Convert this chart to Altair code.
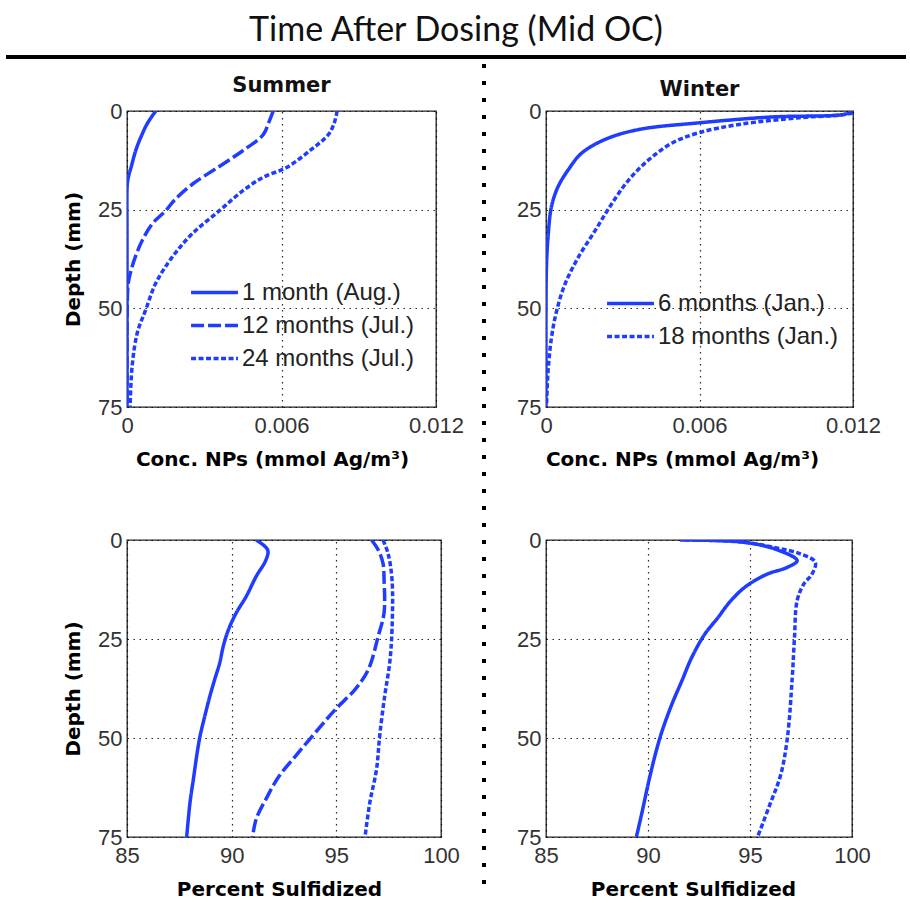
import altair as alt
import pandas as pd

# ---------------- data ----------------
TITLE = "Time After Dosing (Mid OC)"

summer_names = ["1 month (Aug.)", "12 months (Jul.)", "24 months (Jul.)"]
winter_names = ["6 months (Jan.)", "18 months (Jan.)"]

# Summer, concentration of NPs (mmol Ag/m3) vs depth (mm)
s1_conc_depth = [0, 2, 4, 6, 8, 10, 12, 14, 16, 18, 20, 30, 45, 60, 75]
s1_conc = [0.00112, 0.0009, 0.00072, 0.00058, 0.00045, 0.00034, 0.00025, 0.00017,
           0.00008, 0.00002, 0.0, 0.0, 0.0, 0.0, 0.0]
s12_conc_depth = [0, 3, 6, 10, 14, 18.5, 22.6, 25.2, 28.5, 32.7, 36, 39.4, 43.6, 50, 60, 75]
s12_conc = [0.00568, 0.0055, 0.00529, 0.00451, 0.0036, 0.00255, 0.00184, 0.00151,
            0.00099, 0.0006, 0.00038, 0.0002, 0.00005, 0.00001, 0.0, 0.0]
s24_conc_depth = [0, 3, 5.9, 10, 14.3, 16.8, 20.2, 25.2, 31, 36.9, 43.6, 50.3, 56.2, 64.6, 75]
s24_conc = [0.00816, 0.00805, 0.00783, 0.00711, 0.0062, 0.00529, 0.0045, 0.0036,
            0.00255, 0.00177, 0.00112, 0.00073, 0.0004, 0.0002, 0.00012]

# Winter, concentration
w6_conc_depth = [0.3, 1.0, 1.5, 3.0, 4.7, 7.2, 10.7, 14.9, 19.2, 24.3, 32, 39, 50, 75]
w6_conc = [0.012, 0.0115, 0.00886, 0.00598, 0.00362, 0.00231, 0.00139, 0.00087,
           0.00047, 0.00021, 0.00008, 0.00002, 0.0, 0.0]
w18_conc_depth = [0.5, 1.0, 1.7, 3.4, 5.5, 8.1, 12.4, 17.5, 23.5, 30.3, 37.1, 43.9,
                  50.8, 57.6, 66, 75]
w18_conc = [0.012, 0.0115, 0.00991, 0.00755, 0.00598, 0.00493, 0.00401, 0.00323,
            0.00257, 0.00192, 0.00126, 0.00074, 0.00041, 0.00021, 0.00008, 0.00002]

# Summer, percent sulfidized
s1_pct_depth = [0, 2.5, 5, 9.2, 14.3, 18.4, 22.6, 26.8, 31, 35.2, 39.4, 44.4, 49.5,
                54.5, 60.4, 66.3, 75]
s1_pct = [91.17, 91.72, 91.64, 91.17, 90.69, 90.22, 89.85, 89.6, 89.43, 89.19, 88.96,
          88.72, 88.49, 88.33, 88.17, 88.01, 87.85]
s12_pct_depth = [0, 2.5, 5.9, 10, 18.4, 24.3, 32.7, 37.7, 42.8, 48.6, 54.5, 59.6, 65.4, 70.5, 75]
s12_pct = [96.68, 97.0, 97.23, 97.28, 97.28, 97.0, 96.53, 95.9, 94.95, 94.0, 93.06,
           92.27, 91.64, 91.17, 91.0]
s24_pct_depth = [0, 3.4, 10, 22.6, 31, 39.4, 49.5, 57.9, 66.3, 75]
s24_pct = [97.23, 97.47, 97.66, 97.66, 97.55, 97.31, 97.07, 96.92, 96.6, 96.37]

# Winter, percent sulfidized
w6_pct_depth = [0, 0.5, 2.2, 5.2, 6.9, 8.6, 11, 13, 16.2, 19.6, 23.8, 29.7, 35.7, 41.6,
                48.4, 54.3, 61.1, 68.7, 75]
w6_pct = [91.57, 94.56, 96.18, 97.31, 96.83, 95.85, 95.0, 94.5, 93.92, 93.43, 92.78,
          92.14, 91.65, 91.16, 90.68, 90.35, 90.03, 89.71, 89.43]
w18_pct_depth = [0, 0.5, 2.0, 3.5, 5.6, 8.6, 11.1, 15.3, 24.7, 34.8, 50.1, 59.4, 66.2, 75]
w18_pct = [91.8, 94.6, 96.3, 97.47, 98.2, 98.04, 97.64, 97.31, 97.18, 97.07, 96.83,
           96.5, 96.02, 95.37]

depth_ticks = [0, 25, 50, 75]
conc_ticks = [0, 0.006, 0.012]
pct_ticks = [85, 90, 95, 100]

# ---------------- styling ----------------
BLUE = "#1f3cff"
TICK_FONT = "Liberation Sans"
TITLE_FONT = "DejaVu Sans"
summer_dashes = [[1, 0], [13, 4], [5, 2.5]]
winter_dashes = [[1, 0], [5, 2.5]]


def long_frame(names, depths, values):
    rows = []
    for n, d, v in zip(names, depths, values):
        for dd, vv in zip(d, v):
            rows.append({"series": n, "depth": dd, "value": vv})
    return pd.DataFrame(rows)


def panel(df, names, dashes, xdom, xvals, conc, xtitle, title_x, ytitle, w, h,
          subtitle=None, sub_offset=4, legend_xy=None):
    xaxis = dict(values=xvals, title=xtitle, titleX=title_x)
    if conc:
        xaxis["labelExpr"] = "datum.value == 0 ? '0' : format(datum.value, '.3f')"
    yaxis = dict(values=depth_ticks, title=ytitle)
    if legend_xy is not None:
        leg = alt.Legend(orient="none", legendX=legend_xy[0], legendY=legend_xy[1],
                         direction="vertical", title=None, symbolType="stroke",
                         symbolSize=2200, symbolStrokeWidth=3.5,
                         symbolStrokeColor=BLUE, clipHeight=23, rowPadding=8,
                         labelFont=TICK_FONT, labelFontSize=24, labelColor="#222",
                         labelOffset=2, padding=0, labelLimit=400)
    else:
        leg = None
    ch = alt.Chart(df).mark_line(color=BLUE, strokeWidth=3.5, clip=True,
                                 interpolate="catmull-rom").encode(
        x=alt.X("value:Q", scale=alt.Scale(domain=xdom, nice=False, zero=False),
                axis=alt.Axis(**xaxis)),
        y=alt.Y("depth:Q", scale=alt.Scale(domain=[0, 75], reverse=True, nice=False),
                axis=alt.Axis(**yaxis)),
        strokeDash=alt.StrokeDash("series:N",
                                  scale=alt.Scale(domain=names, range=dashes),
                                  legend=leg),
        order=alt.Order("depth:Q"),
    ).properties(width=w, height=h)
    if subtitle:
        ch = ch.properties(title=alt.TitleParams(subtitle, font=TITLE_FONT, fontSize=21,
                                                 fontWeight="bold", color="#111",
                                                 offset=sub_offset, anchor="middle"))
    return ch


df_sc = long_frame(summer_names, [s1_conc_depth, s12_conc_depth, s24_conc_depth],
                   [s1_conc, s12_conc, s24_conc])
df_wc = long_frame(winter_names, [w6_conc_depth, w18_conc_depth], [w6_conc, w18_conc])
df_sp = long_frame(summer_names, [s1_pct_depth, s12_pct_depth, s24_pct_depth],
                   [s1_pct, s12_pct, s24_pct])
df_wp = long_frame(winter_names, [w6_pct_depth, w18_pct_depth], [w6_pct, w18_pct])

conc_title = "Conc. NPs (mmol Ag/m³)"
pct_title = "Percent Sulfidized"

TL = panel(df_sc, summer_names, summer_dashes, [0, 0.012], conc_ticks, True,
           conc_title, 145, "Depth (mm)", 309, 296, subtitle="Summer", sub_offset=4,
           legend_xy=(62, 170))
TR = panel(df_wc, winter_names, winter_dashes, [0, 0.012], conc_ticks, True,
           conc_title, 136, None, 307, 296, subtitle="Winter", sub_offset=0,
           legend_xy=(59, 181))
BL = panel(df_sp, summer_names, summer_dashes, [85, 100], pct_ticks, False,
           pct_title, 152, "Depth (mm)", 314, 297)
BR = panel(df_wp, winter_names, winter_dashes, [85, 100], pct_ticks, False,
           pct_title, 147, None, 306, 297)

hidden_view = alt.ViewBackground(stroke="transparent")
one = pd.DataFrame({"t": [TITLE]})

header_text = alt.Chart(one).mark_text(font="Lato", fontSize=34, color="#111",
                                       align="center", baseline="middle").encode(
    text="t:N", x=alt.value(329), y=alt.value(0))
header_rule = alt.Chart(one).mark_rule(color="#000", strokeWidth=4).encode(
    x=alt.value(-121), x2=alt.value(779), y=alt.value(26))
header = alt.layer(header_text, header_rule).properties(width=600, height=26,
                                                        view=hidden_view)

sep = alt.Chart(one).mark_rule(color="#000", strokeWidth=4, strokeDash=[4, 13]).encode(
    x=alt.value(0), y=alt.value(-47), y2=alt.value(786)
).properties(width=14, height=296, view=hidden_view)


def indep(c):
    return c.resolve_scale(strokeDash="independent").resolve_legend(strokeDash="independent")


left = indep(alt.vconcat(TL, BL, spacing=58))
right = indep(alt.vconcat(TR, BR, spacing=58))
body = indep(alt.hconcat(left, sep, right, spacing=16))

chart = indep(alt.vconcat(header, body, spacing=1)).properties(
    padding={"left": 3, "top": 13, "right": 0, "bottom": 0}
).configure_view(stroke="#222", strokeWidth=1.3).configure_axis(
    labelFont=TICK_FONT, labelFontSize=22, labelColor="#333",
    ticks=False, domain=False, grid=True, gridColor="#000", gridDash=[1.5, 4.5],
    gridWidth=1.2, gridOpacity=0.85, titleFont=TITLE_FONT, titleFontSize=20,
    titleFontWeight="bold", titleColor="#000", labelFlush=False, labelOverlap=False,
).configure_axisX(labelPadding=8, titlePadding=13).configure_axisY(
    labelPadding=5, titlePadding=14)

chart.save("out.html", embed_options={"renderer": "svg", "actions": False})
